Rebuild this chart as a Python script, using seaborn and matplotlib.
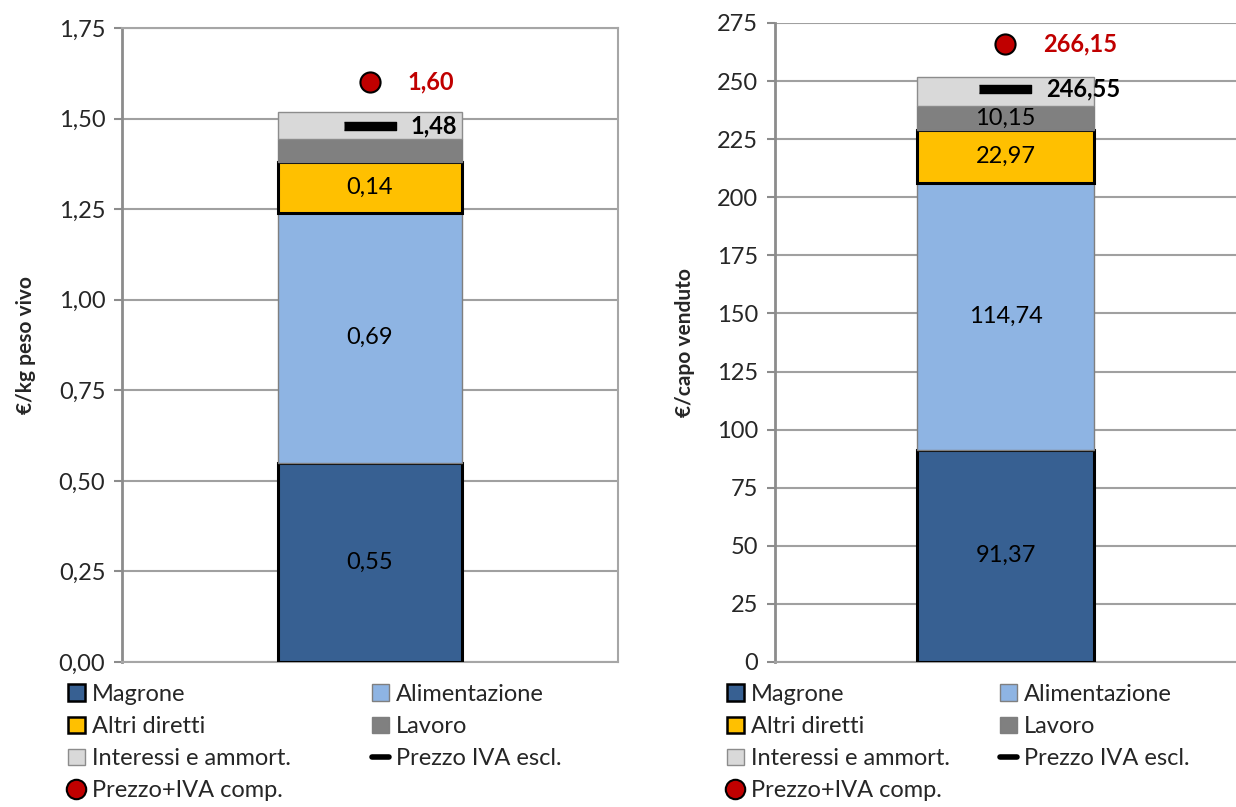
import numpy as np
import pandas as pd
import matplotlib
matplotlib.use("Agg")
import matplotlib.pyplot as plt
from matplotlib.ticker import FuncFormatter, MultipleLocator
from matplotlib.patches import Patch
from matplotlib.lines import Line2D
import seaborn as sns

# Cost components (stack order, bottom to top)
components = ["Magrone", "Alimentazione", "Altri diretti", "Lavoro", "Interessi e ammort."]
costs_kg = [0.55, 0.69, 0.14, 0.063, 0.074]
costs_head = [91.37, 114.74, 22.97, 10.15, 12.50]
# Which segments carry a value label
labelled_kg = [True, True, True, False, False]
labelled_head = [True, True, True, True, False]

price_ex_vat_kg = 1.48
price_inc_vat_kg = 1.60
price_ex_vat_head = 246.55
price_inc_vat_head = 266.15

colors = ["#376092", "#8EB4E3", "#FFC000", "#808080", "#D9D9D9"]
edgecolors = ["black", "#7F7F7F", "black", "#7F7F7F", "#8C8C8C"]
edgewidths = [2.2, 1.0, 2.2, 1.0, 1.0]
red = "#C00000"

sns.set_theme(style="white")
plt.rcParams["font.family"] = ["Lato", "DejaVu Sans"]
plt.rcParams["font.size"] = 17

fig = plt.figure(figsize=(12.36, 8.07), dpi=100)
ax1 = fig.add_axes([0.0987, 0.1797, 0.4013, 0.7856])
ax2 = fig.add_axes([0.627, 0.1797, 0.373, 0.7918])

dash_marker = [(-2.9, -0.5), (2.9, -0.5), (2.9, 0.5), (-2.9, 0.5)]


def comma(v, decimals):
    return f"{v:.{decimals}f}".replace(".", ",")


def draw(ax, values, labelled, p_ex, p_inc, ymax, step, tick_dec, lab_dec, width, ylabel):
    bottom = 0.0
    for name, val, col, ec, lw, lab in zip(components, values, colors, edgecolors, edgewidths, labelled):
        df = pd.DataFrame({"x": ["A"], "y": [val]})
        sns.barplot(data=df, x="x", y="y", ax=ax, color=col, saturation=1,
                    width=width, bottom=bottom, edgecolor=ec, linewidth=lw,
                    zorder=3, errorbar=None)
        if lab:
            ax.text(0, bottom + val / 2, comma(val, lab_dec), ha="center", va="center",
                    fontsize=17, color="black", zorder=5)
        bottom += val

    ax.plot([0], [p_ex], linestyle="none", marker=dash_marker, markersize=37,
            color="black", zorder=6)
    ax.annotate(comma(p_ex, 2), xy=(0, p_ex), xytext=(29, 0), textcoords="offset points",
                ha="left", va="center", fontsize=17, fontweight="bold", color="black", zorder=6)

    pts = pd.DataFrame({"x": [0], "y": [p_inc]})
    sns.scatterplot(data=pts, x="x", y="y", ax=ax, s=210, color=red,
                    edgecolor="black", linewidth=1.5, zorder=6, legend=False)
    ax.annotate(comma(p_inc, 2), xy=(0, p_inc), xytext=(27, 0), textcoords="offset points",
                ha="left", va="center", fontsize=17, fontweight="bold", color=red, zorder=6)

    ax.set_xlim(-0.5, 0.5)
    ax.set_ylim(0, ymax)
    ax.yaxis.set_major_locator(MultipleLocator(step))
    ax.yaxis.set_major_formatter(FuncFormatter(lambda v, p: comma(v, tick_dec)))
    ax.set_xticks([])
    ax.set_xlabel("")
    ax.set_ylabel(ylabel, fontsize=15, fontweight="bold", labelpad=16)
    ax.grid(axis="y", color="#A0A0A0", linewidth=1.5, zorder=0)
    ax.set_axisbelow(True)
    ax.tick_params(axis="y", which="major", direction="out", length=6, width=1.5,
                   color="#8C8C8C", left=True, labelsize=17, pad=6)
    for s in ax.spines.values():
        s.set_color("#A6A6A6")
        s.set_linewidth(1.5)
    ax.spines["left"].set_color("#8C8C8C")
    ax.spines["left"].set_linewidth(2)


draw(ax1, costs_kg, labelled_kg, price_ex_vat_kg, price_inc_vat_kg, 1.75, 0.25, 2, 2,
     0.369, "€/kg peso vivo")
draw(ax2, costs_head, labelled_head, price_ex_vat_head, price_inc_vat_head, 275, 25, 0, 2,
     0.382, "€/capo venduto")
ax2.spines["right"].set_visible(False)
ax2.spines["top"].set_visible(False)
ax2.spines["bottom"].set_color("#A0A0A0")

# Legend entries, one legend per column so each column can be placed exactly
patch = {n: Patch(facecolor=c, edgecolor=e, linewidth=lw)
         for n, c, e, lw in zip(components, colors, edgecolors, [1.8, 1.0, 1.8, 1.0, 1.0])}
dash_h = Line2D([], [], color="black", linewidth=4)
dot_h = Line2D([], [], linestyle="none", marker="o", markersize=14,
               markerfacecolor=red, markeredgecolor="black", markeredgewidth=1.5)
col1 = ([patch["Magrone"], patch["Altri diretti"], patch["Interessi e ammort."], dot_h],
        ["Magrone", "Altri diretti", "Interessi e ammort.", "Prezzo+IVA comp."])
col2 = ([patch["Alimentazione"], patch["Lavoro"], dash_h],
        ["Alimentazione", "Lavoro", "Prezzo IVA escl."])

W, H = 1236, 807
for x_px, (hs, ls) in ((68, col1), (372, col2), (727, col1), (1000, col2)):
    fig.legend(hs, ls, loc="upper left", bbox_to_anchor=(x_px / W, 1 - 684 / H),
               frameon=False, fontsize=17, handlelength=0.7, handleheight=0.7,
               handletextpad=0.3, labelspacing=0.47, borderaxespad=0, borderpad=0)

fig.savefig("out.png", dpi=100)
